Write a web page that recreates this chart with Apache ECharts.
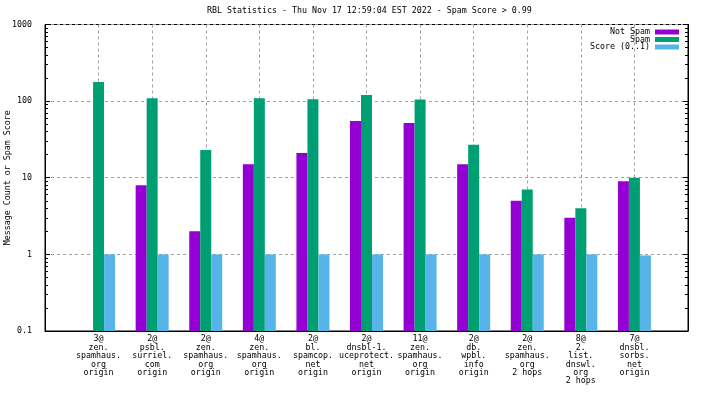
<!DOCTYPE html>
<html><head><meta charset="utf-8">
<script src="https://cdn.jsdelivr.net/npm/echarts@6/dist/echarts.min.js"></script>
<style>html,body{margin:0;padding:0;background:#fff}#c{width:704px;height:396px}</style>
</head><body><div id="c"></div>
<script>
var categories = [
  "3@\nzen.\nspamhaus.\norg\norigin",
  "2@\npsbl.\nsurriel.\ncom\norigin",
  "2@\nzen.\nspamhaus.\norg\norigin",
  "4@\nzen.\nspamhaus.\norg\norigin",
  "2@\nbl.\nspamcop.\nnet\norigin",
  "2@\ndnsbl-1.\nuceprotect.\nnet\norigin",
  "11@\nzen.\nspamhaus.\norg\norigin",
  "2@\ndb.\nwpbl.\ninfo\norigin",
  "2@\nzen.\nspamhaus.\norg\n2 hops",
  "8@\n2.\nlist.\ndnswl.\norg\n2 hops",
  "7@\ndnsbl.\nsorbs.\nnet\norigin"
];
var notSpam = [null, 8, 2, 15, 21, 55, 52, 15, 5, 3, 9];
var spam = [177, 109, 23, 109, 106, 120, 105, 27, 7, 4, 10];
var score = [1, 1, 1, 1, 1, 1, 1, 1, 1, 1, 0.97];
var seriesNames = ["Not Spam", "Spam", "Score (0..1)"];
var colors = ["#9400d3", "#009e73", "#56b4e9"];
var yTicks = [0.1, 1, 10, 100, 1000];

var FONT = "DejaVu Sans Mono";
var FS = 8.3;
function pad(arr) { return [null].concat(arr, [null]); }
var cats = [""].concat(categories, [""]);

var chart = echarts.init(document.getElementById('c'), null, {renderer: 'canvas'});
var seriesData = [notSpam, spam, score];
var series = seriesData.map(function (d, i) {
  return {
    name: seriesNames[i], type: 'bar', data: pad(d),
    barWidth: 11, barGap: '0%',
    itemStyle: {color: colors[i]},
    xAxisIndex: 0, yAxisIndex: 0, animation: false
  };
});
var legendTops = [28, 35.5, 43];
var legends = seriesNames.map(function (n, i) {
  return {
    data: [n], right: 25, top: legendTops[i], padding: 0, orient: 'vertical',
    align: 'right', itemWidth: 24, itemHeight: 5, icon: 'rect', selectedMode: false,
    textStyle: {fontFamily: FONT, fontSize: FS, color: '#000', lineHeight: 8}
  };
});
var yCommon = {
  type: 'log', min: yTicks[0], max: yTicks[yTicks.length - 1], logBase: 10,
  startValue: yTicks[0],
  axisLine: {show: true, lineStyle: {color: '#000', width: 1}},
  axisTick: {show: true, inside: true, length: 5, lineStyle: {color: '#000'}},
  minorTick: {show: true, splitNumber: 9, length: 3, lineStyle: {color: '#000'}}
};
chart.setOption({
  animation: false,
  title: {
    text: "RBL Statistics - Thu Nov 17 12:59:04 EST 2022 - Spam Score > 0.99",
    left: 207, top: 7, padding: 0,
    textStyle: {fontFamily: FONT, fontSize: FS, fontWeight: 'normal', color: '#000'}
  },
  legend: legends,
  grid: {left: 45, right: 16, top: 24.5, bottom: 65, show: true, borderColor: '#000', borderWidth: 1,
    containLabel: false, outerBoundsMode: 'none'},
  xAxis: {
    type: 'category', data: cats, boundaryGap: false,
    axisLine: {show: true, lineStyle: {color: '#000'}},
    axisTick: {show: false},
    axisLabel: {interval: 0, margin: 4, fontFamily: FONT, fontSize: FS, lineHeight: 8.4, color: '#000', align: 'center'},
    splitLine: {show: true, interval: 0, lineStyle: {color: '#a0a0a0', type: [3, 3], width: 1}}
  },
  yAxis: [
    Object.assign({}, yCommon, {
      position: 'left',
      name: 'Message Count or Spam Score', nameLocation: 'middle', nameGap: 33,
      nameMoveOverlap: false,
      nameTextStyle: {fontFamily: FONT, fontSize: FS, color: '#000'},
      axisLabel: {margin: 13, fontFamily: FONT, fontSize: FS, color: '#000',
        formatter: function (v) { return String(v); }},
      splitLine: {show: true, lineStyle: {color: '#a0a0a0', type: [3, 3], width: 1}}
    }),
    Object.assign({}, yCommon, {
      position: 'right', axisLabel: {show: false}, splitLine: {show: false}
    })
  ],
  series: series
});
</script></body></html>
